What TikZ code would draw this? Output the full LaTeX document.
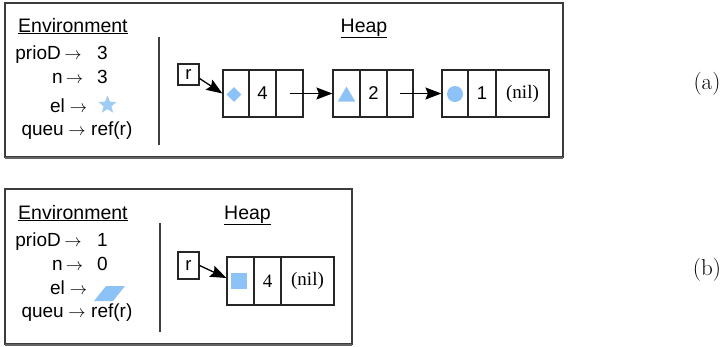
\documentclass[tikz,border=0pt]{standalone}
\usepackage{fontspec}
\setmainfont{Liberation Sans}
\newfontfamily\serifnum{Liberation Serif}
\newfontfamily\lmfont{Latin Modern Roman}
\usetikzlibrary{arrows.meta,shapes.geometric}

\definecolor{frameline}{RGB}{60,60,60}
\definecolor{shapeblue}{RGB}{140,194,245}
\definecolor{starblue}{RGB}{160,203,243}

\tikzset{
  x=1pt, y=-1pt,
  title/.style={inner sep=0pt, font=\fontsize{19.5}{22}\selectfont},
  txt/.style={inner sep=0pt, font=\fontsize{19}{21}\selectfont},
  maps/.style={inner sep=0pt, font=\fontsize{19}{21}\selectfont},
  panel/.style={draw=frameline, line width=1.1pt},
  divider/.style={draw=black!75, line width=1.4pt},
  cell/.style={draw=black!85, line width=1.2pt, inner sep=0pt, minimum height=47pt,
               font=\fontsize{18.5}{21}\selectfont},
  refbox/.style={draw=black!85, line width=1.2pt, inner sep=0pt, minimum width=21pt,
                 font=\fontsize{18.5}{21}\selectfont},
  ptr/.style={line width=1.3pt, -{Stealth[length=16pt,width=12pt,inset=2.5pt]}},
  nilsty/.style={font=\fontsize{19}{21}\serifnum},
  tag/.style={inner sep=0pt, font=\fontsize{23}{25}\lmfont},
}

\begin{document}
\begin{tikzpicture}
\useasboundingbox (0,0) rectangle (723,346);

% ---------------- panel (a) ----------------
\draw[panel] (5,3) rectangle (563,157);
\draw[frameline!80, line width=2pt] (5,157.5) -- (563,157.5);

\node[title, anchor=base west] (envA) at (18,32) {\underline{Environment}};
\node[title, anchor=base] (heapA) at (364,32) {\underline{Heap}};
\draw[divider] (159,37) -- (159,145);

% environment bindings
\node[txt, anchor=base east] (aVar1) at (61,59) {prioD};
\node[maps, anchor=base]     (aArr1) at (73,59) {$\rightarrow$};
\node[txt, anchor=base west] (aVal1) at (97,59) {3};

\node[txt, anchor=base east] (aVar2) at (63,83) {n};
\node[maps, anchor=base]     (aArr2) at (74.5,83) {$\rightarrow$};
\node[txt, anchor=base west] (aVal2) at (97,83) {3};

\node[txt, anchor=base east] (aVar3) at (65,112) {el};
\node[maps, anchor=base]     (aArr3) at (78.5,112) {$\rightarrow$};
\node[star, star points=5, star point ratio=2.3, minimum size=19pt, inner sep=0pt,
      fill=starblue] (aStar) at (107.5,105) {};

\node[txt, anchor=base east] (aVar4) at (64,135) {queu};
\node[maps, anchor=base]     (aArr4) at (77,135) {$\rightarrow$};
\node[txt, anchor=base west] (aVal4) at (91,135) {ref(r)};

% heap cells
\node[refbox, minimum height=21pt] (rA) at (188.5,74.5) {r};

\node[cell, minimum width=26pt] (a1c1) at (236,93.5) {};
\node[cell, minimum width=27pt] (a1c2) at (262.5,93.5) {4};
\node[cell, minimum width=27pt] (a1c3) at (289.5,93.5) {};

\node[cell, minimum width=27pt] (a2c1) at (346.5,93.5) {};
\node[cell, minimum width=27pt] (a2c2) at (373.5,93.5) {2};
\node[cell, minimum width=26pt] (a2c3) at (400,93.5) {};

\node[cell, minimum width=26pt] (a3c1) at (455,93.5) {};
\node[cell, minimum width=28pt] (a3c2) at (482,93.5) {1};
\node[cell, minimum width=53pt, nilsty] (a3c3) at (522.5,93.5) {(nil)};

% element markers
\node[diamond, fill=shapeblue, inner sep=0pt, minimum size=15pt] (aDia) at (234,94.5) {};
\node[regular polygon, regular polygon sides=3, fill=shapeblue, inner sep=0pt,
      minimum size=20pt] (aTri) at (346.5,96.5) {};
\node[circle, fill=shapeblue, inner sep=0pt, minimum size=16pt] (aCirc) at (455,94) {};

% pointers
\draw[ptr] ([yshift=-4pt]rA.east) -- (a1c1.west);
\draw[ptr] (a1c3.center) -- (a2c1.west);
\draw[ptr] (a2c3.center) -- (a3c1.west);

\node[tag, anchor=base] (tagA) at (707,89) {(a)};

% ---------------- panel (b) ----------------
\draw[panel] (5,189) rectangle (352,344);
\draw[frameline!80, line width=2pt] (5,344.5) -- (352,344.5);

\node[title, anchor=base west] (envB) at (18,219) {\underline{Environment}};
\node[title, anchor=base] (heapB) at (247.5,219) {\underline{Heap}};
\draw[divider] (160,223) -- (160,332);

\node[txt, anchor=base east] (bVar1) at (61,246) {prioD};
\node[maps, anchor=base]     (bArr1) at (73,246) {$\rightarrow$};
\node[txt, anchor=base west] (bVal1) at (97,246) {1};

\node[txt, anchor=base east] (bVar2) at (63,270) {n};
\node[maps, anchor=base]     (bArr2) at (74.5,270) {$\rightarrow$};
\node[txt, anchor=base west] (bVal2) at (97,270) {0};

\node[txt, anchor=base east] (bVar3) at (65,294) {el};
\node[maps, anchor=base]     (bArr3) at (78.5,294) {$\rightarrow$};
\fill[shapeblue] (94,301) -- (106,286) -- (125,286) -- (113,301) -- cycle;

\node[txt, anchor=base east] (bVar4) at (64,317) {queu};
\node[maps, anchor=base]     (bArr4) at (77,317) {$\rightarrow$};
\node[txt, anchor=base west] (bVal4) at (91,317) {ref(r)};

\node[refbox, minimum height=27pt] (rB) at (188.5,265.5) {r};

\node[cell, minimum width=27pt, minimum height=48pt] (b1c1) at (240.5,281) {};
\node[cell, minimum width=27pt, minimum height=48pt, nilsty] (b1c2) at (267.5,281) {4};
\node[cell, minimum width=53pt, minimum height=48pt, nilsty] (b1c3) at (307.5,281) {(nil)};

\node[rectangle, fill=shapeblue, inner sep=0pt, minimum size=16pt] (bSq) at (239,281) {};

\draw[ptr] (rB.east) -- ([yshift=3pt]b1c1.west);

\node[tag, anchor=base] (tagB) at (707,275) {(b)};
\end{tikzpicture}
\end{document}
